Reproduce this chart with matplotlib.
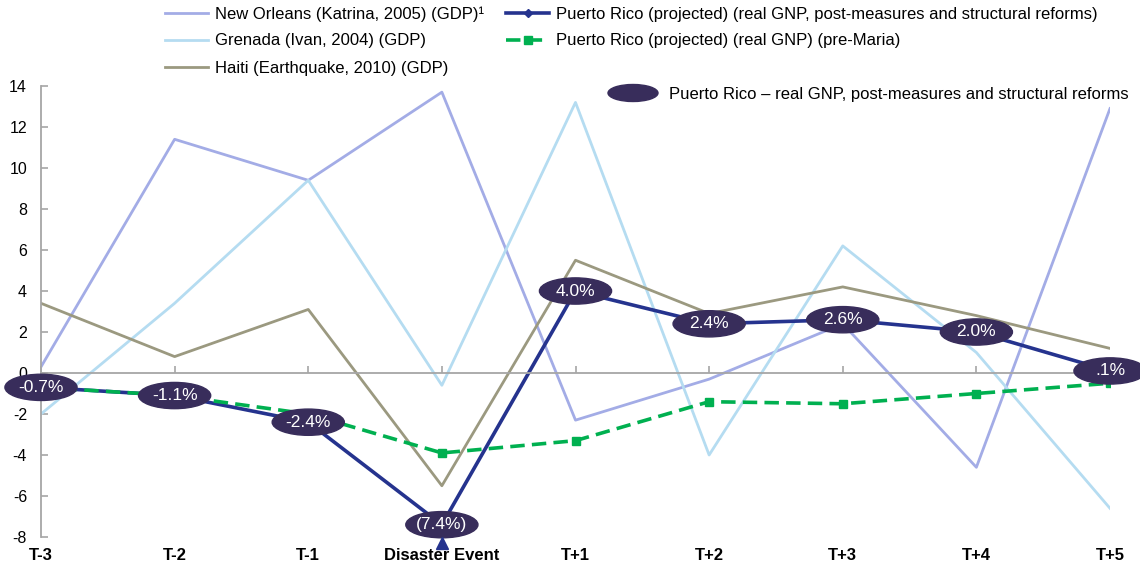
import matplotlib.pyplot as plt
from matplotlib.patches import Ellipse

plt.rcParams['font.family'] = ['Liberation Sans', 'DejaVu Sans']
plt.rcParams['axes.unicode_minus'] = False

categories = ['T-3', 'T-2', 'T-1', 'Disaster Event', 'T+1', 'T+2', 'T+3', 'T+4', 'T+5']
new_orleans = [0.3, 11.4, 9.4, 13.7, -2.3, -0.3, 2.4, -4.6, 12.9]
grenada = [-2.0, 3.4, 9.4, -0.6, 13.2, -4.0, 6.2, 1.0, -6.6]
haiti = [3.4, 0.8, 3.1, -5.5, 5.5, 2.9, 4.2, 2.8, 1.2]
pr_post = [-0.7, -1.1, -2.4, -7.4, 4.0, 2.4, 2.6, 2.0, 0.1]
pr_pre = [-0.7, -1.1, -2.0, -3.9, -3.3, -1.4, -1.5, -1.0, -0.5]
pr_labels = ['-0.7%', '-1.1%', '-2.4%', '(7.4%)', '4.0%', '2.4%', '2.6%', '2.0%', '.1%']

c_no = '#A3ACE6'
c_gr = '#B5DCF1'
c_ha = '#9B9980'
c_post = '#25338E'
c_pre = '#00B050'
c_ell = '#382D5B'

fig = plt.figure(figsize=(11.4, 5.67), dpi=100)
ax = fig.add_axes([41 / 1140, 1 - 537 / 567, (1110 - 41) / 1140, (537 - 86) / 567])

x = list(range(len(categories)))
ax.plot(x, new_orleans, color=c_no, lw=2, label='New Orleans (Katrina, 2005) (GDP)\u00b9')
ax.plot(x, grenada, color=c_gr, lw=2, label='Grenada (Ivan, 2004) (GDP)')
ax.plot(x, haiti, color=c_ha, lw=2, label='Haiti (Earthquake, 2010) (GDP)')
ax.plot(x, pr_post, color=c_post, lw=2.6, marker='D', ms=4,
        label='Puerto Rico (projected) (real GNP, post-measures and structural reforms)')
ax.plot(x, pr_pre, color=c_pre, lw=2.6, dashes=(4, 2), marker='s', ms=6,
        label='Puerto Rico (projected) (real GNP) (pre-Maria)')

# ellipse labels on the post-measures series
for xi, yi, lab in zip(x, pr_post, pr_labels):
    ax.add_patch(Ellipse((xi, yi), 0.54, 1.28, color=c_ell, zorder=5, clip_on=False))
    ax.text(xi, yi, lab, color='white', fontsize=12.5, ha='center', va='center', zorder=6)

# marker under the disaster event
ax.plot([3], [-8.3], marker='^', color=c_post, ms=9, clip_on=False, zorder=6)

ax.set_xlim(0, 8)
ax.set_ylim(-8, 14)
ax.set_yticks(range(-8, 15, 2))
ax.set_xticks(x)
ax.set_xticklabels([])
for s in ['top', 'right']:
    ax.spines[s].set_visible(False)
ax.spines['bottom'].set_position(('data', 0))
for s in ['bottom', 'left']:
    ax.spines[s].set_color('#A6A6A6')
    ax.spines[s].set_linewidth(1.3)
ax.tick_params(axis='both', direction='in', length=5, color='#A6A6A6', width=1.2)
ax.tick_params(axis='y', labelsize=11.5, pad=10)

for xi, lab in zip(x, categories):
    ax.annotate(lab, (xi, -8), xytext=(0, -8), textcoords='offset points',
                ha='center', va='top', fontsize=12, fontweight='bold', annotation_clip=False)

fig.legend(loc='upper left', bbox_to_anchor=(165 / 1140, 1 - 6 / 567), ncol=2, frameon=False,
           fontsize=12, handlelength=2.6, handletextpad=0.42, labelspacing=0.72,
           columnspacing=1.3, borderpad=0, borderaxespad=0)

fig.add_artist(Ellipse((633 / 1140, 1 - 93 / 567), 50 / 1140, 17 / 567,
                       transform=fig.transFigure, color=c_ell))
fig.text(669 / 1140, 1 - 94 / 567, 'Puerto Rico \u2013 real GNP, post-measures and structural reforms',
         fontsize=12, va='center')

fig.savefig('out.png', dpi=100)
